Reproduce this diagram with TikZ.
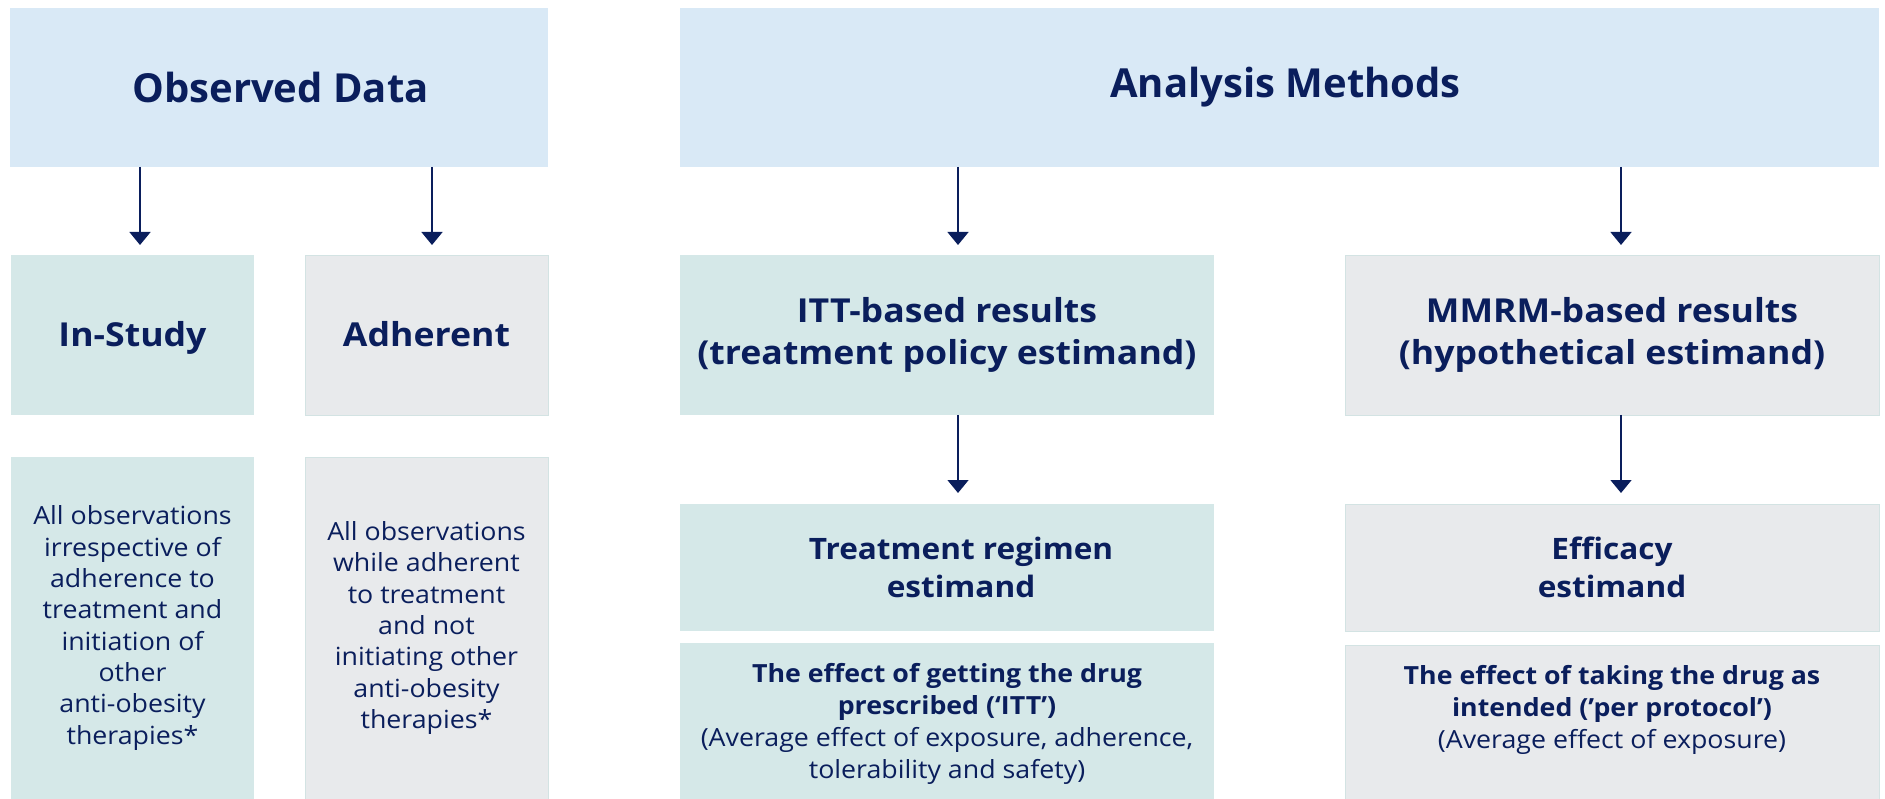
\documentclass[tikz,border=0pt]{standalone}
\usepackage{fontspec}
\setmainfont{Open Sans}
\usetikzlibrary{arrows.meta}

\definecolor{navy}{HTML}{0A1E5C}
\definecolor{headblue}{HTML}{D9E9F6}
\definecolor{tealfill}{HTML}{D5E8E8}
\definecolor{greyfill}{HTML}{E8EAEC}
\definecolor{greyedge}{HTML}{D3E3E3}

% size, leading and horizontal stretch of a text style
\newcommand{\fs}[3]{\fontsize{#1}{#2}\selectfont\addfontfeatures{FakeStretch=#3}}

\tikzset{
  base/.style={rectangle, inner sep=0pt, outer sep=0pt, anchor=north west,
    align=center, text=navy},
  headbox/.style={base, fill=headblue},
  tealbox/.style={base, fill=tealfill},
  greybox/.style={base, fill=greyfill, draw=greyedge, line width=0.8pt},
  arr/.style={draw=navy, line width=1.5pt,
    -{Triangle[width=21pt,length=13pt]}},
  titlefont/.style={font=\fs{40}{48}{1.0}\bfseries},
  labelfont/.style={font=\fs{33}{42.3}{1.08}\bfseries},
  oneline/.style={text height=23.6pt, text depth=0pt},
  estfont/.style={font=\fs{29.5}{38.5}{1.07}\bfseries},
  bodyfont/.style={font=\fs{25}{31.3}{1.07}},
  notefont/.style={font=\fs{25}{32}{1.07}},
}

\begin{document}
\begin{tikzpicture}[x=1pt, y=-1pt]
  \useasboundingbox (0,0) rectangle (1885,799);

  % header row
  \node[headbox, titlefont, minimum width=538pt, minimum height=159pt] (od) at (10,8)
    {\hspace*{3pt}Observed Data};
  \node[headbox, titlefont, minimum width=1199pt, minimum height=159pt] (am) at (680,8)
    {\hspace*{12pt}Analysis Methods};

  % second row
  \node[tealbox, labelfont, oneline, minimum width=243pt, minimum height=160pt] (instudy) at (11,255)
    {In-Study};
  \node[greybox, labelfont, oneline, minimum width=243pt, minimum height=160pt] (adherent) at (305,255)
    {Adherent};
  \node[tealbox, labelfont, minimum width=534pt, minimum height=160pt] (itt) at (680,255)
    {ITT-based results\\(treatment policy estimand)};
  \node[greybox, labelfont, minimum width=534pt, minimum height=160pt] (mmrm) at (1345,255)
    {MMRM-based results\\(hypothetical estimand)};

  % data descriptions
  \node[tealbox, bodyfont, minimum width=243pt, minimum height=342pt] (instudydesc) at (11,457)
    {All observations\\irrespective of\\adherence to\\treatment and\\initiation of\\other\\anti-obesity\\therapies*};
  \node[greybox, bodyfont, minimum width=243pt, minimum height=342pt] (adherentdesc) at (305,457)
    {All observations\\while adherent\\to treatment\\and not\\initiating other\\anti-obesity\\therapies*};

  % estimands
  \node[tealbox, estfont, minimum width=534pt, minimum height=127pt] (regimen) at (680,504)
    {\hspace*{28pt}Treatment regimen\\\hspace*{28pt}estimand};
  \node[greybox, estfont, minimum width=534pt, minimum height=127pt] (efficacy) at (1345,504)
    {Efficacy\\estimand};

  % what each estimand measures
  \node[tealbox, minimum width=534pt, minimum height=156pt] (regimeneff) at (680,643) {};
  \node[base, notefont, anchor=north] (regimentxt) at ([yshift=-20.5pt]regimeneff.north)
    {\textbf{The effect of getting the drug}\\\textbf{prescribed (‘ITT’)}\\
     (Average effect of exposure, adherence,\\tolerability and safety)};
  \node[greybox, minimum width=534pt, minimum height=154pt] (efficacyeff) at (1345,645) {};
  \node[base, notefont, anchor=north] (efficacytxt) at ([yshift=-20.5pt]efficacyeff.north)
    {\textbf{The effect of taking the drug as}\\\textbf{intended (’per protocol’)}\\
     (Average effect of exposure)};

  % connectors
  \draw[arr] ([xshift=7.5pt]instudy.north |- od.south) -- ([xshift=7.5pt,yshift=10pt]instudy.north);
  \draw[arr] ([xshift=5.5pt]adherent.north |- od.south) -- ([xshift=5.5pt,yshift=10pt]adherent.north);
  \draw[arr] ([xshift=11pt]itt.north |- am.south) -- ([xshift=11pt,yshift=10pt]itt.north);
  \draw[arr] ([xshift=9pt]mmrm.north |- am.south) -- ([xshift=9pt,yshift=10pt]mmrm.north);
  \draw[arr] ([xshift=11pt]itt.south) -- ([xshift=11pt,yshift=11pt]regimen.north);
  \draw[arr] ([xshift=9pt]mmrm.south) -- ([xshift=9pt,yshift=11pt]efficacy.north);
\end{tikzpicture}
\end{document}
